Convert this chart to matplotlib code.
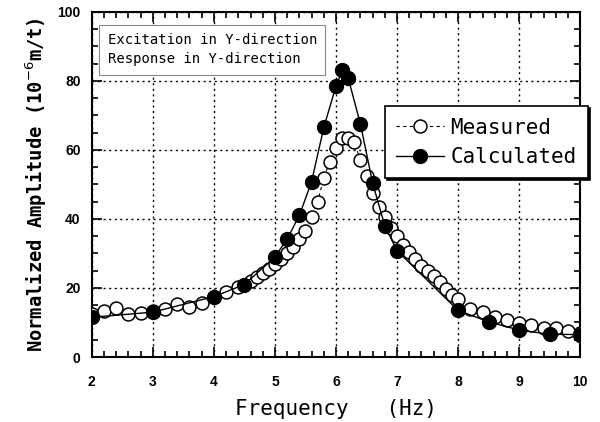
import matplotlib
matplotlib.use('Agg')
import matplotlib.pyplot as plt
from matplotlib.ticker import MultipleLocator

# measured response (open circles)
meas_f = [2.0, 2.2, 2.4, 2.6, 2.8, 3.0, 3.2, 3.4, 3.6, 3.8, 4.0, 4.2, 4.4, 4.6,
          4.7, 4.8, 4.9, 5.0, 5.1, 5.2, 5.3, 5.4, 5.5, 5.6, 5.7, 5.8, 5.9, 6.0,
          6.1, 6.2, 6.3, 6.4, 6.5, 6.6, 6.7, 6.8, 6.9, 7.0, 7.1, 7.2, 7.3, 7.4,
          7.5, 7.6, 7.7, 7.8, 7.9, 8.0, 8.2, 8.4, 8.6, 8.8, 9.0, 9.2, 9.4, 9.6,
          9.8, 10.0]
meas_a = [12.5, 13.4, 14.2, 12.6, 12.8, 13.3, 13.8, 15.4, 14.4, 15.6, 17.5, 18.8,
          20.3, 22.0, 23.2, 24.3, 25.5, 26.8, 28.5, 30.0, 32.0, 34.2, 36.5, 40.5,
          45.0, 52.0, 56.5, 60.5, 63.5, 63.5, 62.3, 57.0, 52.5, 47.5, 43.5, 40.5,
          37.5, 35.0, 32.5, 30.5, 28.3, 26.3, 24.8, 23.5, 21.8, 19.8, 18.0, 16.8,
          14.0, 13.0, 11.6, 10.7, 9.9, 9.3, 8.5, 8.4, 7.6, 7.0]

# calculated response (filled circles)
calc_f = [2.0, 3.0, 4.0, 4.5, 5.0, 5.2, 5.4, 5.6, 5.8, 6.0, 6.1, 6.2, 6.4, 6.6,
          6.8, 7.0, 8.0, 8.5, 9.0, 9.5, 10.0]
calc_a = [11.5, 13.0, 17.5, 21.0, 29.0, 34.2, 41.0, 50.8, 66.5, 78.5, 83.0, 80.8,
          67.5, 50.4, 38.0, 30.8, 13.5, 10.2, 7.8, 6.6, 6.5]

mono = 'DejaVu Sans Mono'

fig = plt.figure(figsize=(6, 4.22), dpi=100)
ax = fig.add_axes([0.153, 0.154, 0.814, 0.818])

ax.plot(meas_f, meas_a, color='black', lw=0.8, ls=(0, (3, 3)), marker='o',
        ms=9.3, mfc='white', mec='black', mew=1.1, label='Measured', zorder=3)
ax.plot(calc_f, calc_a, color='black', lw=1.0, marker='o', ms=10,
        mfc='black', mec='black', label='Calculated', zorder=4)

ax.set_xlim(2, 10)
ax.set_ylim(0, 100)
ax.xaxis.set_major_locator(MultipleLocator(1))
ax.xaxis.set_minor_locator(MultipleLocator(0.2))
ax.yaxis.set_major_locator(MultipleLocator(20))
ax.yaxis.set_minor_locator(MultipleLocator(5))
ax.tick_params(which='both', direction='in', top=True, right=True, width=1.2)
ax.tick_params(which='major', length=7, labelsize=10)
ax.tick_params(axis='x', which='major', pad=13)
ax.tick_params(axis='y', which='major', pad=8)
ax.tick_params(which='minor', length=4)
for lab in ax.get_xticklabels() + ax.get_yticklabels():
    lab.set_fontweight('bold')
    lab.set_family('Liberation Sans')
for s in ax.spines.values():
    s.set_linewidth(1.5)

ax.grid(True, which='major', color='black', ls=(0, (1.5, 2.5)), lw=1.0)

ax.set_xlabel('Frequency   (Hz)', fontsize=15, family=mono, labelpad=7)
ax.set_ylabel('Normalized Amplitude (10$^{-6}$m/t)', fontsize=13.5,
              family=mono, fontweight='bold', labelpad=6)

ax.text(2.26, 89, 'Excitation in Y-direction\nResponse in Y-direction',
        fontsize=10, family=mono, va='center', ha='left', linespacing=1.45,
        bbox=dict(boxstyle='square,pad=0.6', fc='white', ec='#888888', lw=0.8),
        zorder=5)

leg = ax.legend(loc='upper right', bbox_to_anchor=(1.016, 0.727),
                prop={'family': mono, 'size': 15}, frameon=True, fancybox=False,
                shadow={'ox': 1.5, 'oy': -1.5, 'color': 'black', 'alpha': 1},
                handlelength=2.3, handletextpad=0.3,
                borderpad=0.55, labelspacing=0.45, borderaxespad=0)
leg.get_frame().set_edgecolor('black')
leg.get_frame().set_linewidth(1.2)
leg.set_zorder(6)

fig.savefig('out.png', dpi=100)
